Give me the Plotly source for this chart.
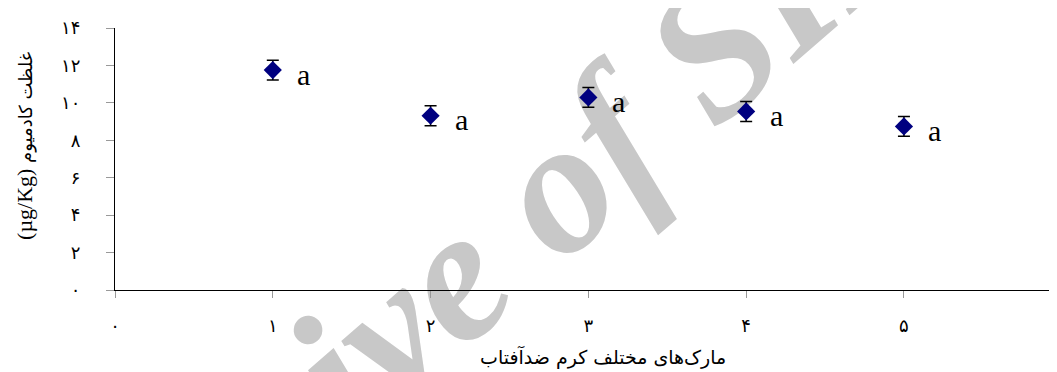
import plotly.graph_objects as go

# brand number (1-5) and cadmium concentration (ug/Kg)
brands = [1, 2, 3, 4, 5]
cadmium = [11.75, 9.31, 10.29, 9.54, 8.74]
cadmium_err = [0.53, 0.53, 0.53, 0.53, 0.53]
group_letters = ["a", "a", "a", "a", "a"]

x_tickvals = [0, 1, 2, 3, 4, 5]
x_ticktext = ["۰", "۱", "۲", "۳", "۴", "۵"]
y_tickvals = [0, 2, 4, 6, 8, 10, 12, 14]
y_ticktext = ["۰", "۲", "۴", "۶", "۸", "۱۰", "۱۲", "۱۴"]

fig = go.Figure()

# grey watermark text, drawn under everything as an invisible shape's label
fig.add_shape(
    type="rect", xref="paper", yref="paper",
    x0=0.258, x1=0.458, y0=0.061, y1=0.261,
    line=dict(width=0), fillcolor="rgba(0,0,0,0)", layer="below",
    label=dict(
        text="Archive of SID", textangle=-41, textposition="middle center",
        font=dict(family="Liberation Serif", size=190, color="#c8c8c8",
                  style="italic", weight="bold"),
    ),
)

fig.add_trace(go.Scatter(
    x=brands,
    y=cadmium,
    mode="markers",
    marker=dict(symbol="diamond", color="#000080", size=14, line=dict(width=0)),
    error_y=dict(type="data", array=cadmium_err, color="black", thickness=1.5, width=6),
    showlegend=False,
))

# significance letters next to each point
for xv, yv, letter in zip(brands, cadmium, group_letters):
    fig.add_annotation(
        x=xv, y=yv, text=letter, showarrow=False,
        xanchor="left", yanchor="middle", xshift=22, yshift=-4,
        font=dict(family="Liberation Serif", size=30, color="black"),
    )

# axis titles
fig.add_annotation(
    text="مارک‌های مختلف کرم ضدآفتاب",
    xref="paper", yref="paper", x=0.518, y=-0.256,
    xanchor="center", yanchor="middle", showarrow=False,
    font=dict(family="DejaVu Sans", size=19, color="black"),
)
fig.add_annotation(
    text="<span style='font-family:Liberation Serif;font-size:22px'>(µg/Kg)</span> غلظت کادمیوم",
    xref="paper", yref="paper", x=-0.0955, y=0.55,
    xanchor="center", yanchor="middle", textangle=-90, showarrow=False,
    font=dict(family="DejaVu Sans", size=18, color="black"),
)

fig.update_xaxes(
    range=[0, 5.97],
    tickvals=x_tickvals, ticktext=x_ticktext,
    showline=True, linecolor="black", linewidth=1,
    ticks="outside", ticklen=7, tickcolor="#999999", tickwidth=1,
    ticklabelstandoff=12,
    showgrid=False, zeroline=False,
    tickfont=dict(family="DejaVu Sans", size=18, color="black"),
)
fig.update_yaxes(
    range=[0, 14],
    tickvals=y_tickvals, ticktext=y_ticktext,
    showline=True, linecolor="black", linewidth=1,
    ticks="outside", ticklen=8, tickcolor="#999999", tickwidth=1,
    ticklabelstandoff=22,
    showgrid=False, zeroline=False,
    tickfont=dict(family="DejaVu Sans", size=18, color="black"),
)

# the page body has an 8px margin, so the figure is 8px smaller than the window
fig.update_layout(
    width=1049, height=364,
    margin=dict(l=107, r=0, t=20, b=82),
    plot_bgcolor="white", paper_bgcolor="white",
    showlegend=False,
)

fig.write_html("out.html")
